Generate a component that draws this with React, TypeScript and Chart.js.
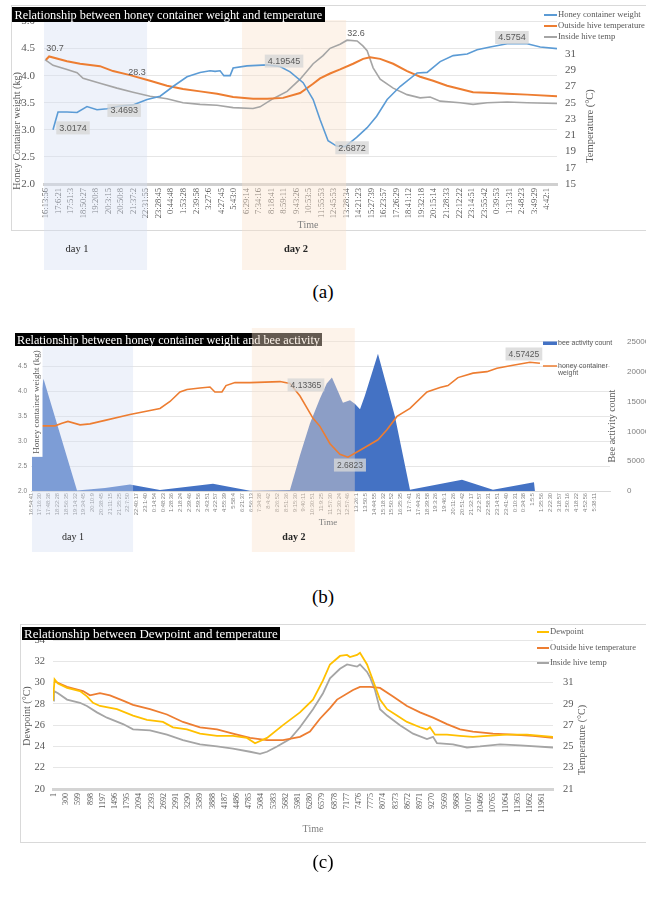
import React, { useEffect, useRef } from 'react';
import { Chart, registerables } from 'chart.js';

Chart.register(...registerables);

const SERIF = '"Liberation Serif", "Times New Roman", serif';
const SANS = '"Liberation Sans", Arial, sans-serif';
const TXT = '#595959';

// ---------------- Panel (a) ----------------
const timesA = ['16:13:56','17:6:21','17:51:3','18:50:27','19:20:8','20:3:15','20:50:8','21:37:2','22:31:55','23:28:45','0:44:48','1:53:28','2:39:58','3:27:6','4:27:45','5:43:0','6:29:14','7:34:16','8:18:41','8:59:11','9:43:26','10:53:5','11:55:53','12:45:53','13:28:34','14:21:23','15:27:39','16:23:57','17:26:29','18:41:12','19:32:18','20:15:14','21:28:33','22:12:22','23:14:51','23:55:42','0:39:53','1:31:31','2:48:23','3:49:29','4:42:1'];
// [time index, kg]
const weightA = [[0.56,3.0],[0.8,3.2],[0.96,3.33],[1.68,3.33],[2.48,3.32],[3.27,3.43],[4.07,3.37],[4.87,3.39],[5.91,3.44],[6.95,3.46],[8.07,3.56],[9.11,3.62],[10.14,3.8],[11.26,3.98],[12.3,4.06],[13.1,4.09],[13.5,4.08],[13.9,4.09],[14.2,4.0],[14.7,4.0],[14.94,4.14],[16.05,4.18],[17.65,4.2],[18.69,4.17],[19.49,4.07],[20.53,3.87],[21.33,3.56],[21.88,3.19],[22.52,2.8],[23.2,2.7],[23.88,2.69],[24.8,2.86],[25.64,3.04],[26.4,3.25],[27.24,3.56],[28.27,3.8],[29.63,4.05],[30.43,4.06],[31.47,4.26],[32.51,4.37],[33.63,4.4],[34.42,4.48],[35.46,4.53],[36.82,4.59],[38.42,4.59],[39.46,4.53],[40.8,4.5]];
// [time index, °C]
const outsideA = [[0.0,30.3],[0.25,30.7],[1.68,30.1],[2.72,29.8],[4.31,29.5],[5.35,28.9],[6.71,28.4],[8.31,27.7],[9.66,27.1],[10.94,26.7],[12.3,26.4],[13.66,26.1],[14.94,25.7],[16.53,25.5],[17.65,25.5],[18.93,25.6],[20.29,26.2],[21.3,27.3],[21.88,28.0],[22.68,28.6],[23.48,29.1],[24.52,29.8],[25.32,30.4],[25.88,30.6],[26.68,30.4],[27.72,29.8],[28.83,28.9],[29.87,28.2],[30.91,27.7],[32.03,27.1],[33.07,26.7],[34.1,26.3],[35.7,26.2],[36.82,26.1],[38.42,26.0],[40.8,25.8]];
const insideA = [[-0.08,30.3],[0.56,29.6],[1.68,29.1],[2.48,28.7],[2.96,28.0],[4.31,27.4],[5.67,26.8],[6.95,26.3],[8.31,25.8],[9.66,25.5],[10.94,25.0],[12.3,24.8],[13.66,24.7],[14.94,24.4],[16.53,24.3],[17.09,24.5],[18.13,25.5],[19.25,26.4],[20.29,27.9],[21.33,29.8],[22.12,30.8],[22.68,31.7],[23.48,32.2],[24.04,32.7],[24.84,32.6],[25.3,32.0],[25.64,31.4],[26.12,29.3],[26.68,27.9],[27.72,26.8],[28.83,26.0],[29.87,25.6],[30.67,25.7],[31.47,25.2],[33.07,25.0],[34.1,24.8],[35.22,25.0],[36.82,25.1],[38.42,25.0],[40.8,24.9]];
const daysA = [[-0.16, 8.07], [15.65, 23.96]];
const calloutsA = [
  { axis: 'y1', x: 0.08, v: 30.7, box: false, dx: 8, dy: -8 },
  { axis: 'y1', x: 6.71, v: 28.3, box: false, dx: 7, dy: -4 },
  { axis: 'y', x: 0.56, v: 3.0174, box: true, dx: 20, dy: -1 },
  { axis: 'y', x: 6.4, v: 3.4693, box: true, dx: -2, dy: 6 },
  { axis: 'y', x: 17.65, v: 4.19545, box: true, dx: 17, dy: -4 },
  { axis: 'y1', x: 24.84, v: 32.6, box: false, dx: -1, dy: -8 },
  { axis: 'y', x: 37.6, v: 4.5754, box: true, dx: -5, dy: -7 },
  { axis: 'y', x: 23.88, v: 2.6872, box: true, dx: 7, dy: 1 },
];

// ---------------- Panel (b) ----------------
const timesB = ['16:54:41','17:16:30','17:48:38','18:22:28','18:56:35','19:14:32','19:34:45','20:10:9','20:38:45','21:11:15','21:35:25','22:7:50','22:40:17','23:1:40','0:14:54','0:48:23','1:28:36','2:18:24','2:39:46','2:59:56','3:43:51','4:22:57','4:55:39','5:58:4','6:21:37','6:56:13','7:34:38','8:4:42','8:26:52','8:51:36','9:15:30','9:40:11','10:30:51','11:9:25','11:57:30','12:30:24','12:57:46','13:26:1','13:50:5','14:44:55','15:18:32','15:50:52','16:35:35','17:7:41','17:44:26','18:39:58','19:3:26','19:46:1','20:11:26','20:51:42','21:32:17','22:2:57','22:58:31','23:14:51','23:41:40','0:10:31','0:34:38','1:5:5','1:35:56','2:22:30','3:18:57','3:50:16','4:18:22','4:52:56','5:38:11'];
// [time index, bee count]
const beeB = [[0.11,6000],[1.42,18800],[5.23,100],[8.41,500],[11.25,1100],[14.66,150],[20.68,1200],[24.89,50],[29.43,150],[30.57,6000],[31.7,11300],[32.84,15500],[33.61,18000],[34.2,19000],[35.45,14800],[36.25,15200],[36.8,14600],[37.39,13700],[37.95,16000],[39.43,23000],[41.36,12500],[43.07,200],[48.98,1900],[52.5,200],[57.16,1450],[57.27,0],[64.7,0]];
// [time index, kg]
const weightB = [[0.11,3.31],[2.73,3.31],[3.52,3.36],[4.2,3.4],[5.57,3.33],[6.7,3.35],[8.41,3.42],[11.25,3.54],[14.66,3.66],[15.8,3.8],[16.93,3.99],[17.73,4.04],[19.2,4.07],[20.34,4.09],[20.9,3.99],[21.7,3.99],[22.16,4.12],[23.18,4.18],[24.89,4.18],[28.3,4.2],[29.43,4.16],[30.57,3.91],[32.05,3.46],[32.84,3.3],[33.98,2.95],[35.11,2.74],[36.02,2.68],[37.39,2.82],[39.43,3.03],[40.45,3.23],[41.59,3.5],[43.07,3.66],[45,3.99],[46.48,4.08],[47.39,4.12],[48.52,4.28],[50.23,4.37],[51.82,4.4],[52.95,4.47],[54.77,4.53],[56.7,4.59],[57.84,4.57]];
const daysB = [[0.11, 11.6], [25.1, 36.8]];
const calloutsB = [
  { axis: 'y', x: 29.43, v: 4.13365, box: true, dx: 16, dy: 0 },
  { axis: 'y', x: 36.02, v: 2.6823, box: true, dx: 2, dy: 8 },
  { axis: 'y', x: 56.7, v: 4.57425, box: true, dx: -6, dy: -9 },
];

// ---------------- Panel (c) ----------------
const samplesC = ['1','300','599','898','1197','1496','1795','2094','2393','2692','2991','3290','3589','3888','4187','4486','4785','5084','5383','5682','5981','6280','6579','6878','7177','7476','7775','8074','8373','8672','8971','9270','9569','9868','10167','10466','10765','11064','11363','11662','11961'];
// [sample index, °C]
const dewC = [[-0.08,28.3],[0.05,30.3],[0.33,29.9],[1.07,29.5],[2.13,29.2],[2.7,28.7],[3.2,28.1],[3.77,27.8],[5.16,27.5],[6.48,26.9],[7.62,26.5],[8.93,26.3],[9.75,25.8],[10.9,25.6],[11.97,25.2],[13.36,25.0],[14.67,25.0],[15.82,24.8],[16.48,24.3],[17.46,24.8],[18.77,26.0],[20.16,27.2],[21.23,28.4],[22.05,30.2],[22.62,31.7],[23.44,32.5],[24.02,32.6],[24.26,32.4],[24.84,32.6],[25.08,32.8],[25.66,31.7],[26.15,30.2],[26.72,28.4],[27.3,27.5],[28.11,26.9],[28.93,26.3],[30,25.8],[30.57,25.6],[30.82,25.8],[31.23,25.1],[32.21,25.1],[33.28,25.0],[34.34,24.9],[35.49,25.0],[37.13,25.1],[38.77,25.1],[40.9,24.9]];
const outsideC = [[0.08,31.1],[1.07,30.6],[2.38,30.2],[2.95,29.8],[3.77,30.0],[4.59,29.8],[5.66,29.3],[6.48,28.9],[7.87,28.5],[9.26,28.0],[10.57,27.3],[11.97,26.8],[13.36,26.6],[14.67,26.2],[16.07,25.8],[17.46,25.6],[18.77,25.6],[20.16,25.9],[20.98,26.4],[21.8,27.6],[22.62,28.6],[23.2,29.4],[24.51,30.3],[25.08,30.6],[25.9,30.6],[26.72,30.5],[27.79,29.7],[28.93,28.8],[30,28.2],[31.07,27.7],[32.21,27.1],[33.28,26.6],[34.34,26.4],[35.98,26.2],[37.62,26.1],[39.26,26.0],[40.9,25.8]];
const insideC = [[-0.05,29.3],[0.0,30.2],[0.33,30.0],[1.07,29.4],[2.13,29.1],[2.7,28.8],[3.52,28.2],[4.34,27.7],[5.66,27.1],[6.48,26.6],[7.87,26.5],[9.26,26.1],[10.57,25.6],[11.97,25.2],[13.36,25.0],[14.67,24.8],[16.07,24.5],[16.89,24.3],[17.46,24.5],[18.28,25.0],[19.34,25.7],[20.16,26.8],[21.23,28.5],[22.05,30.0],[22.62,31.4],[23.44,32.3],[24.02,32.7],[24.84,32.5],[25.08,32.7],[25.66,32.0],[25.9,31.5],[26.31,30.3],[26.72,28.5],[27.3,27.9],[28.36,27.0],[29.43,26.2],[30.57,25.7],[31.07,25.9],[31.39,25.3],[32.7,25.2],[33.85,24.9],[34.92,25.0],[36.56,25.2],[38.2,25.1],[40.9,24.9]];

// ---------------- helpers ----------------
const toXY = (arr: number[][]) => arr.map(([x, y]) => ({ x, y }));

function fitSize(ctx: any, text: string, family: string, width: number, weight = 'normal') {
  ctx.font = `${weight} 20px ${family}`;
  return (20 * width) / ctx.measureText(text).width;
}

function drawTitleBox(ctx: any, text: string, x: number, y: number, w: number, h: number, textW: number) {
  ctx.save();
  ctx.fillStyle = '#000';
  ctx.fillRect(x, y, w, h);
  const size = fitSize(ctx, text, SERIF, textW);
  ctx.font = `${size}px ${SERIF}`;
  ctx.fillStyle = '#fff';
  ctx.textAlign = 'left';
  ctx.textBaseline = 'middle';
  ctx.fillText(text, x + (w - textW) / 2, y + h / 2 + 1);
  ctx.restore();
}

function drawVText(ctx: any, text: string, cx: number, cy: number, font: string, color: string, bg?: string) {
  ctx.save();
  ctx.translate(cx, cy);
  ctx.rotate(-Math.PI / 2);
  ctx.font = font;
  ctx.textAlign = 'center';
  ctx.textBaseline = 'middle';
  if (bg) {
    const w = ctx.measureText(text).width;
    ctx.fillStyle = bg;
    ctx.fillRect(-w / 2 - 3, -6, w + 6, 12);
  }
  ctx.fillStyle = color;
  ctx.fillText(text, 0, 0);
  ctx.restore();
}

function drawText(ctx: any, text: string, x: number, y: number, font: string, color: string, align = 'center') {
  ctx.save();
  ctx.font = font;
  ctx.fillStyle = color;
  ctx.textAlign = align;
  ctx.textBaseline = 'middle';
  ctx.fillText(text, x, y);
  ctx.restore();
}

function drawCallouts(chart: any, list: any[], font: string) {
  const ctx = chart.ctx;
  ctx.save();
  ctx.font = font;
  ctx.textAlign = 'center';
  ctx.textBaseline = 'middle';
  list.forEach((c) => {
    const px = chart.scales.x.getPixelForValue(c.x) + c.dx;
    const py = chart.scales[c.axis].getPixelForValue(c.v) + c.dy;
    const text = String(c.v);
    const w = ctx.measureText(text).width;
    if (c.box) {
      ctx.fillStyle = 'rgba(215,215,215,0.8)';
      ctx.fillRect(px - w / 2 - 3, py - 6.5, w + 6, 13);
    }
    ctx.fillStyle = TXT;
    ctx.fillText(text, px, py + 0.5);
  });
  ctx.restore();
}

function drawLineLegend(chart: any, x0: number, x1: number, tx: number, ys: number[], family: string, textW: number) {
  const ctx = chart.ctx;
  const ds = chart.data.datasets;
  const longest = ds.reduce((a: string, d: any) => (d.label.length > a.length ? d.label : a), '');
  const size = fitSize(ctx, longest, family, textW);
  ctx.save();
  ds.forEach((d: any, i: number) => {
    ctx.strokeStyle = d.borderColor;
    ctx.lineWidth = 2;
    ctx.beginPath();
    ctx.moveTo(x0, ys[i]);
    ctx.lineTo(x1, ys[i]);
    ctx.stroke();
    ctx.font = `${size}px ${family}`;
    ctx.fillStyle = TXT;
    ctx.textAlign = 'left';
    ctx.textBaseline = 'middle';
    ctx.fillText(d.label, tx, ys[i]);
  });
  ctx.restore();
}

function drawDays(chart: any, ranges: number[][], colors: string[], tops: number[], bottom: number) {
  const ctx = chart.ctx;
  const x = chart.scales.x;
  ctx.save();
  ranges.forEach(([a, b], i) => {
    const x0 = x.getPixelForValue(a);
    const x1 = x.getPixelForValue(b);
    ctx.fillStyle = colors[i];
    ctx.fillRect(x0, tops[i], x1 - x0, bottom - tops[i]);
  });
  ctx.restore();
}

function dayLabels(chart: any, ranges: number[][], offsets: number[], y: number, size: number) {
  const x = chart.scales.x;
  ranges.forEach(([a], i) => {
    const x0 = x.getPixelForValue(a);
    drawText(chart.ctx, `day ${i + 1}`, x0 + offsets[i], y, `${i === 1 ? 'bold ' : ''}${size}px ${SERIF}`, '#262626');
  });
}

function xAxis(labels: string[], min: number, max: number, height: number, font: any, padding: number, borderColor: string, borderWidth: number, color: string) {
  return {
    type: 'linear',
    min,
    max,
    afterBuildTicks: (s: any) => {
      s.ticks = labels.map((_, i) => ({ value: i }));
    },
    ticks: {
      autoSkip: false,
      minRotation: 90,
      maxRotation: 90,
      padding,
      font,
      color,
      callback: (v: number) => labels[Math.round(v)] ?? '',
    },
    grid: { display: false, drawTicks: false },
    border: { display: true, color: borderColor, width: borderWidth },
    afterFit: (s: any) => {
      s.height = height;
    },
  };
}

const common = {
  animation: false,
  responsive: false,
  maintainAspectRatio: false,
  devicePixelRatio: 1,
  events: [],
  plugins: { legend: { display: false }, tooltip: { enabled: false } },
  elements: { point: { radius: 0 }, line: { tension: 0 } },
};

const DAY1 = 'rgba(212,222,242,0.4)';
const DAY2 = 'rgba(250,225,202,0.4)';

// ---------------- configs ----------------
function configA() {
  const plugin = {
    id: 'panelA',
    beforeDraw(chart: any) {
      const ctx = chart.ctx;
      ctx.save();
      ctx.fillStyle = '#fff';
      ctx.fillRect(0, 0, chart.width, chart.height);
      ctx.strokeStyle = '#d9d9d9';
      ctx.lineWidth = 1;
      ctx.strokeRect(11.5, 5.5, 700, 225);
      ctx.restore();
    },
    beforeDatasetsDraw(chart: any) {
      drawDays(chart, daysA, [DAY1, DAY2], [20, 20], 270);
    },
    afterDraw(chart: any) {
      const ctx = chart.ctx;
      drawTitleBox(ctx, 'Relationship between honey container weight and temperature', 12, 7, 313, 15, 308);
      drawLineLegend(chart, 544, 557, 558, [15, 26, 37], SERIF, 87);
      drawCallouts(chart, calloutsA, `9px ${SANS}`);
      drawVText(ctx, 'Honey Container weight (kg)', 17, 131, `10px ${SERIF}`, TXT);
      drawVText(ctx, 'Temperature (°C)', 590, 126, `10.5px ${SERIF}`, TXT);
      drawText(ctx, 'Time', 308, 225, `10px ${SERIF}`, '#808080');
      dayLabels(chart, daysA, [33, 54], 249, 10.5);
    },
  };
  return {
    type: 'line',
    data: {
      datasets: [
        { label: 'Honey container weight', data: toXY(weightA), borderColor: '#5b9bd5', borderWidth: 1.6, yAxisID: 'y' },
        { label: 'Outside hive temperature', data: toXY(outsideA), borderColor: '#ed7d31', borderWidth: 2, yAxisID: 'y1' },
        { label: 'Inside hive temp', data: toXY(insideA), borderColor: '#a5a5a5', borderWidth: 1.6, yAxisID: 'y1' },
      ],
    },
    options: {
      ...common,
      layout: { padding: { top: 21.5, left: 0, right: 0, bottom: 0 } },
      scales: {
        x: xAxis(timesA, -0.16, 40.8, 91, { family: SERIF, size: 8.5 }, 4, '#d0d0d0', 3, TXT),
        y: {
          position: 'left', min: 2, max: 5,
          ticks: { stepSize: 0.5, padding: 9, font: { family: SERIF, size: 11 }, color: TXT },
          grid: { color: '#e6e6e6', drawTicks: false },
          border: { display: false },
          afterFit: (s: any) => { s.width = 44; },
        },
        y1: {
          position: 'right', min: 15, max: 35,
          ticks: { stepSize: 2, padding: 8, font: { family: SERIF, size: 11 }, color: TXT, callback: (v: number) => (v > 31 ? '' : String(v)) },
          grid: { display: false, drawTicks: false },
          border: { display: false },
          afterFit: (s: any) => { s.width = 89; },
        },
      },
    },
    plugins: [plugin],
  };
}

function configB() {
  const plugin = {
    id: 'panelB',
    beforeDraw(chart: any) {
      const ctx = chart.ctx;
      ctx.save();
      ctx.fillStyle = '#fff';
      ctx.fillRect(0, 0, chart.width, chart.height);
      ctx.restore();
    },
    beforeDatasetsDraw(chart: any) {
      drawTitleBox(chart.ctx, 'Relationship between honey container weight and bee activity', 15, 13, 307, 13, 303);
    },
    afterDatasetDraw(chart: any, args: any) {
      if (args.index === 0) drawDays(chart, daysB, [DAY1, DAY2], [26, 8], 232);
    },
    afterDraw(chart: any) {
      const ctx = chart.ctx;
      // legend
      const ds = chart.data.datasets;
      ctx.save();
      ctx.fillStyle = ds[0].backgroundColor;
      ctx.fillRect(543, 21.5, 14, 3.5);
      ctx.strokeStyle = ds[1].borderColor;
      ctx.lineWidth = 1.5;
      ctx.beginPath();
      ctx.moveTo(543, 46);
      ctx.lineTo(557, 46);
      ctx.stroke();
      ctx.restore();
      const f = `7px ${SANS}`;
      drawText(ctx, ds[0].label, 558, 23, f, TXT, 'left');
      drawText(ctx, 'honey container', 558, 46, f, TXT, 'left');
      drawText(ctx, 'weight', 558, 53.5, f, TXT, 'left');
      drawCallouts(chart, calloutsB, `8.5px ${SANS}`);
      drawVText(ctx, 'Honey container weight (kg)', 36.5, 82, `9px ${SERIF}`, TXT, '#ffffff');
      drawVText(ctx, 'Bee activity count', 612, 106, `10px ${SERIF}`, TXT);
      drawText(ctx, 'Time', 328, 203, `9px ${SERIF}`, '#808080');
      dayLabels(chart, daysB, [41, 42], 217, 10);
    },
  };
  return {
    type: 'line',
    data: {
      datasets: [
        { label: 'bee activity count', data: toXY(beeB), borderColor: '#4472c4', backgroundColor: '#4472c4', borderWidth: 0, fill: 'origin', yAxisID: 'y1', order: 2 },
        { label: 'honey container weight', data: toXY(weightB), borderColor: '#ed7d31', borderWidth: 1.6, fill: false, yAxisID: 'y', order: 1 },
      ],
    },
    options: {
      ...common,
      layout: { padding: { top: 15, left: 0, right: 0, bottom: 0 } },
      scales: {
        x: xAxis(timesB, 0, 65.8, 69, { family: SANS, size: 5.7 }, 2, '#d9d9d9', 1, '#808080'),
        y: {
          position: 'left', min: 2, max: 5,
          ticks: { stepSize: 0.5, padding: 4, font: { family: SANS, size: 6.5 }, color: '#808080' },
          grid: { color: '#e6e6e6', drawTicks: false },
          border: { display: false },
          afterFit: (s: any) => { s.width = 31; },
        },
        y1: {
          position: 'right', min: 0, max: 25000,
          ticks: { stepSize: 5000, padding: 17, font: { family: SANS, size: 8 }, color: '#808080', callback: (v: number) => String(v) },
          grid: { display: false, drawTicks: false },
          border: { display: false },
          afterFit: (s: any) => { s.width = 36; },
        },
      },
    },
    plugins: [plugin],
  };
}

function configC() {
  const plugin = {
    id: 'panelC',
    beforeDraw(chart: any) {
      const ctx = chart.ctx;
      ctx.save();
      ctx.fillStyle = '#fff';
      ctx.fillRect(0, 0, chart.width, chart.height);
      ctx.strokeStyle = '#d9d9d9';
      ctx.lineWidth = 1;
      ctx.strokeRect(20.5, 14.5, 700, 218);
      ctx.restore();
    },
    afterDraw(chart: any) {
      const ctx = chart.ctx;
      drawTitleBox(ctx, 'Relationship between Dewpoint and temperature', 22, 17, 258, 13, 254);
      drawLineLegend(chart, 537, 549, 550, [22, 38, 53], SERIF, 86);
      drawVText(ctx, 'Dewpoint (°C)', 27, 106, `10px ${SERIF}`, TXT);
      drawVText(ctx, 'Temperature (°C)', 582, 130, `10px ${SERIF}`, TXT);
      drawText(ctx, 'Time', 313, 219, `10px ${SERIF}`, '#808080');
    },
  };
  return {
    type: 'line',
    data: {
      datasets: [
        { label: 'Dewpoint', data: toXY(dewC), borderColor: '#ffc000', borderWidth: 1.8, yAxisID: 'y' },
        { label: 'Outside hive temperature', data: toXY(outsideC), borderColor: '#ed7d31', borderWidth: 1.8, yAxisID: 'y1' },
        { label: 'Inside hive temp', data: toXY(insideC), borderColor: '#a5a5a5', borderWidth: 1.8, yAxisID: 'y1' },
      ],
    },
    options: {
      ...common,
      layout: { padding: { top: 30, left: 0, right: 0, bottom: 0 } },
      scales: {
        x: xAxis(samplesC, -0.08, 40.9, 66, { family: SERIF, size: 8 }, 4, '#d4d4d4', 3, TXT),
        y: {
          position: 'left', min: 20, max: 34,
          ticks: { stepSize: 2, padding: 8, font: { family: SERIF, size: 10.5 }, color: TXT },
          grid: { color: '#e6e6e6', drawTicks: false },
          border: { display: false },
          afterFit: (s: any) => { s.width = 53; },
        },
        y1: {
          position: 'right', min: 21, max: 35,
          ticks: { stepSize: 2, padding: 10, font: { family: SERIF, size: 10.5 }, color: TXT, callback: (v: number) => (v > 31 ? '' : String(v)) },
          grid: { display: false, drawTicks: false },
          border: { display: false },
          afterFit: (s: any) => { s.width = 93; },
        },
      },
    },
    plugins: [plugin],
  };
}

function ChartCanvas({ top, height, make }: { top: number; height: number; make: () => any }) {
  const ref = useRef<HTMLCanvasElement | null>(null);
  useEffect(() => {
    const chart = new Chart(ref.current as HTMLCanvasElement, make());
    return () => chart.destroy();
  }, []);
  return (
    <canvas
      ref={ref}
      width={646}
      height={height}
      style={{ position: 'absolute', left: 0, top, width: 646, height, display: 'block' }}
    />
  );
}

function Caption({ text, cy }: { text: string; cy: number }) {
  return (
    <div
      style={{
        position: 'absolute', left: 0, width: 646, top: cy - 12, height: 24, lineHeight: '24px',
        textAlign: 'center', fontFamily: SERIF, fontSize: 19, color: '#000',
      }}
    >
      {text}
    </div>
  );
}

export default function App() {
  return (
    <div style={{ position: 'absolute', left: 0, top: 0, width: 646, height: 897, background: '#fff', overflow: 'hidden' }}>
      <ChartCanvas top={0} height={275} make={configA} />
      <Caption text="(a)" cy={292} />
      <ChartCanvas top={320} height={240} make={configB} />
      <Caption text="(b)" cy={597} />
      <ChartCanvas top={610} height={245} make={configC} />
      <Caption text="(c)" cy={862} />
    </div>
  );
}
